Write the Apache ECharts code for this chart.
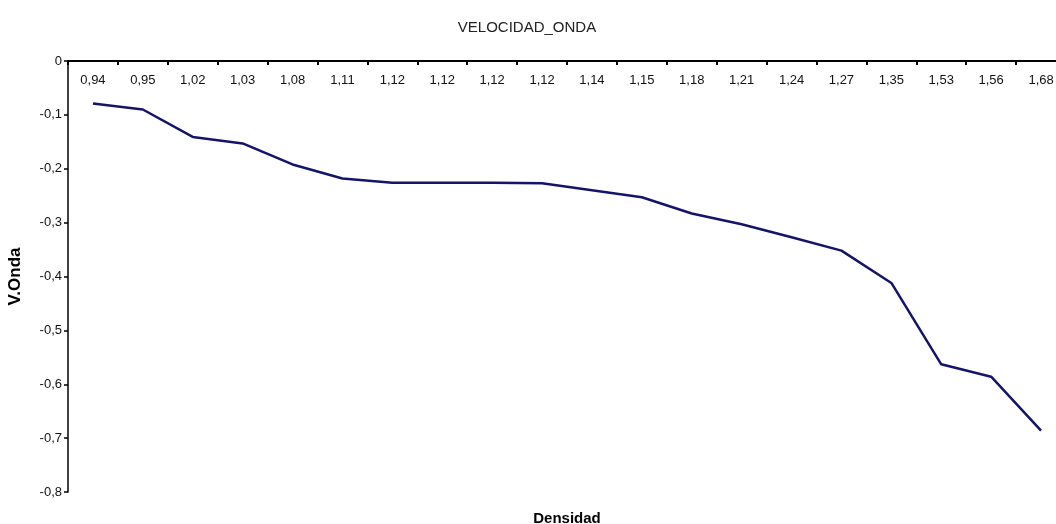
<!DOCTYPE html>
<html>
<head>
<meta charset="utf-8">
<script src="https://cdn.jsdelivr.net/npm/echarts@6/dist/echarts.min.js"></script>
<style>
  html, body { margin: 0; padding: 0; background: #fff; overflow: hidden; }
  #chart { width: 1056px; height: 524px; }
</style>
</head>
<body>
<div id="chart"></div>
<script>
// Densidad (categorías del eje X, tal como se rotulan)
const densidad = ['0,94', '0,95', '1,02', '1,03', '1,08', '1,11', '1,12', '1,12', '1,12', '1,12',
                  '1,14', '1,15', '1,18', '1,21', '1,24', '1,27', '1,35', '1,53', '1,56', '1,68'];
// Velocidad de onda para cada densidad
const velocidadOnda = [-0.079, -0.090, -0.141, -0.153, -0.192, -0.218, -0.226, -0.226, -0.226, -0.227,
                       -0.240, -0.253, -0.283, -0.303, -0.327, -0.352, -0.412, -0.563, -0.586, -0.686];

const chart = echarts.init(document.getElementById('chart'));
const font = 'Liberation Sans, Arial, sans-serif';

chart.setOption({
  backgroundColor: '#ffffff',
  animation: false,
  title: [
    {
      text: 'VELOCIDAD_ONDA',
      left: 522, top: 15, textAlign: 'center',
      textStyle: { fontFamily: font, fontSize: 15, fontWeight: 'normal', color: '#222' }
    },
    {
      text: 'Densidad',
      left: 562, top: 506, textAlign: 'center',
      textStyle: { fontFamily: font, fontSize: 15, fontWeight: 'bold', color: '#000' }
    }
  ],
  // el área de trazado continúa un poco más allá del borde derecho
  grid: { left: 68, top: 61, right: -10, bottom: 32, containLabel: false, outerBoundsMode: 'none' },
  xAxis: {
    type: 'category',
    position: 'top',
    data: densidad,
    boundaryGap: true,
    axisLine: { show: true, onZero: false, lineStyle: { color: '#000', width: 2 } },
    axisTick: { show: true, inside: true, length: 4, lineStyle: { color: '#000', width: 2 } },
    axisLabel: { inside: true, margin: 13, interval: 0, fontFamily: font, fontSize: 13, color: '#111' },
    splitLine: { show: false }
  },
  yAxis: {
    type: 'value',
    min: -0.8, max: 0, interval: 0.1,
    name: 'V.Onda',
    nameLocation: 'middle',
    nameGap: 44,
    nameRotate: 90,
    nameTextStyle: { fontFamily: font, fontSize: 17, fontWeight: 'bold', color: '#000' },
    axisLine: { show: true, lineStyle: { color: '#000', width: 1.5 } },
    axisTick: { show: true, length: 4, lineStyle: { color: '#000', width: 1.5 } },
    axisLabel: {
      margin: 6, fontFamily: font, fontSize: 13, color: '#111',
      formatter: v => (Math.round(v * 10) / 10).toString().replace('.', ',')
    },
    splitLine: { show: false }
  },
  series: [{
    type: 'line',
    data: velocidadOnda,
    symbol: 'none',
    smooth: false,
    lineStyle: { color: '#14146b', width: 2.5 }
  }]
});
</script>
</body>
</html>
